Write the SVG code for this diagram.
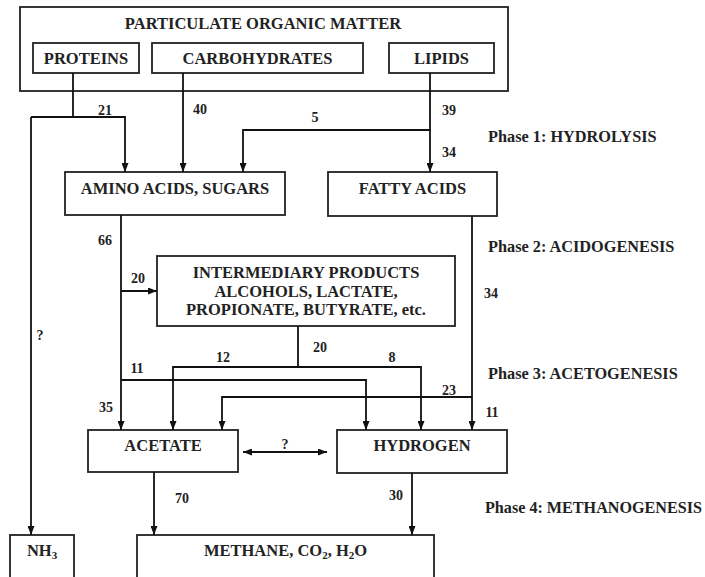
<svg xmlns="http://www.w3.org/2000/svg" width="705" height="577" viewBox="0 0 705 577">
<defs>
<marker id="ah" markerUnits="userSpaceOnUse" markerWidth="9" markerHeight="7" refX="9" refY="3.5" orient="auto-start-reverse">
<path d="M0,0 L9,3.5 L0,7 z" fill="#111"/>
</marker>
<style>
.box{fill:#fff;stroke:#222;stroke-width:1.8}
.t{font-family:"Liberation Serif","Times New Roman",serif;font-weight:bold;font-size:16.5px;fill:#222;text-anchor:middle}
.n{font-family:"Liberation Serif","Times New Roman",serif;font-weight:bold;font-size:14px;fill:#222;text-anchor:middle}
.p{font-family:"Liberation Serif","Times New Roman",serif;font-weight:bold;font-size:16.3px;fill:#222}
.c{fill:none;stroke:#111;stroke-width:1.8}
.a{fill:none;stroke:#111;stroke-width:1.8;marker-end:url(#ah)}
</style>
</defs>
<rect width="705" height="577" fill="#fff"/>

<g id="pom"><rect class="box" x="20" y="7" width="488" height="84"/><text class="t" x="263" y="29">PARTICULATE ORGANIC MATTER</text></g>
<g id="proteins"><rect class="box" x="33" y="43" width="106" height="30"/><text class="t" x="86" y="64">PROTEINS</text></g>
<g id="carbohydrates"><rect class="box" x="152" y="43" width="211" height="30"/><text class="t" x="257.5" y="64">CARBOHYDRATES</text></g>
<g id="lipids"><rect class="box" x="389" y="43" width="105" height="30"/><text class="t" x="441.5" y="64">LIPIDS</text></g>
<g id="amino"><rect class="box" x="65" y="172" width="220" height="43"/><text class="t" x="175" y="194">AMINO ACIDS, SUGARS</text></g>
<g id="fatty"><rect class="box" x="328" y="172" width="169" height="44"/><text class="t" x="412.5" y="194">FATTY ACIDS</text></g>
<g id="intermediary"><rect class="box" x="157" y="256" width="298" height="70"/>
<text class="t" x="306" y="278">INTERMEDIARY PRODUCTS</text>
<text class="t" x="306" y="297">ALCOHOLS, LACTATE,</text>
<text class="t" x="306" y="315">PROPIONATE, BUTYRATE, etc.</text></g>
<g id="acetate"><rect class="box" x="88" y="430" width="150" height="42"/><text class="t" x="163" y="451">ACETATE</text></g>
<g id="hydrogen"><rect class="box" x="337" y="430" width="170" height="43"/><text class="t" x="422" y="451">HYDROGEN</text></g>
<g id="nh3"><rect class="box" x="10" y="535" width="64" height="50"/><text class="t" x="42" y="556">NH<tspan font-size="11" dy="3">3</tspan></text></g>
<g id="methane"><rect class="box" x="137" y="535" width="297" height="50"/><text class="t" x="285.5" y="556">METHANE, CO<tspan font-size="11" dy="3">2</tspan><tspan dy="-3">, H</tspan><tspan font-size="11" dy="3">2</tspan><tspan dy="-3">O</tspan></text></g>

<g id="connectors">
<path class="c" d="M73,73 V117"/>
<path class="a" d="M31,117 H125 V172"/>
<path class="a" d="M31,117 V535"/>
<path class="a" d="M183,73 V172"/>
<path class="a" d="M430,73 V172"/>
<path class="a" d="M430,130 H243 V172"/>
<path class="a" d="M121,215 V430"/>
<path class="a" d="M121,291 H157"/>
<path class="a" d="M121,380 H366 V430"/>
<path class="c" d="M298,326 V367"/>
<path class="a" d="M298,367 H173 V430"/>
<path class="a" d="M298,367 H421 V430"/>
<path class="a" d="M472,216 V430"/>
<path class="a" d="M472,397 H222 V430"/>
<path class="a" d="M243,452 H327" marker-start="url(#ah)"/>
<path class="a" d="M154,472 V535"/>
<path class="a" d="M412,473 V535"/>
</g>

<g id="labels">
<text class="n" x="105" y="115">21</text>
<text class="n" x="200" y="114">40</text>
<text class="n" x="315" y="122">5</text>
<text class="n" x="449" y="115">39</text>
<text class="n" x="449" y="157">34</text>
<text class="n" x="105" y="245">66</text>
<text class="n" x="138" y="283">20</text>
<text class="n" x="40" y="340">?</text>
<text class="n" x="320" y="352">20</text>
<text class="n" x="223" y="362">12</text>
<text class="n" x="392" y="362">8</text>
<text class="n" x="137" y="373">11</text>
<text class="n" x="449" y="395">23</text>
<text class="n" x="106" y="412">35</text>
<text class="n" x="491" y="298">34</text>
<text class="n" x="492" y="417">11</text>
<text class="n" x="285" y="449">?</text>
<text class="n" x="182" y="503">70</text>
<text class="n" x="396" y="500">30</text>
<text class="p" x="488" y="142">Phase 1: HYDROLYSIS</text>
<text class="p" x="488" y="252">Phase 2: ACIDOGENESIS</text>
<text class="p" x="488" y="379">Phase 3: ACETOGENESIS</text>
<text class="p" x="485" y="513" textLength="217" lengthAdjust="spacingAndGlyphs">Phase 4: METHANOGENESIS</text>
</g>
</svg>
